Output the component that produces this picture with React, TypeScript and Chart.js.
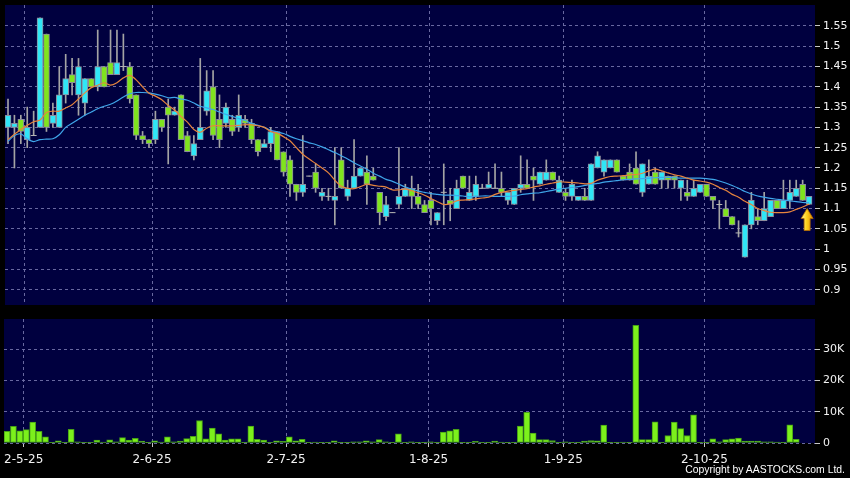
import React, { useEffect, useRef } from 'react';
import { Chart, registerables } from 'chart.js';

Chart.register(...registerables);

// ---------- data ----------
const dateLabels = ['2-5-25', '2-6-25', '2-7-25', '1-8-25', '1-9-25', '2-10-25'];
const datePositions = [2.6, 22.6, 43.5, 65.7, 86.7, 108.7];

const opens = [
  1.30, 1.30, 1.32, 1.27, 1.28, 1.30, 1.53, 1.31, 1.30, 1.38,
  1.43, 1.38, 1.36, 1.42, 1.40, 1.45, 1.46, 1.43, 1.45, 1.45,
  1.38, 1.28, 1.27, 1.27, 1.32, 1.35, 1.33, 1.38, 1.28, 1.23,
  1.27, 1.34, 1.40, 1.32, 1.31, 1.32, 1.30, 1.32, 1.31, 1.27,
  1.25, 1.26, 1.29, 1.24, 1.22, 1.16, 1.14, 1.18, 1.19, 1.13,
  1.13, 1.12, 1.22, 1.13, 1.15, 1.18, 1.19, 1.18, 1.14, 1.08,
  1.09, 1.11, 1.13, 1.15, 1.13, 1.11, 1.12, 1.07, 1.14, 1.12,
  1.10, 1.18, 1.12, 1.13, 1.15, 1.15, 1.15, 1.15, 1.12, 1.11,
  1.15, 1.16, 1.18, 1.16, 1.17, 1.19, 1.14, 1.14, 1.13, 1.12,
  1.13, 1.12, 1.20, 1.19, 1.20, 1.22, 1.18, 1.19, 1.20, 1.14,
  1.16, 1.19, 1.17, 1.18, 1.18, 1.15, 1.14, 1.13, 1.14, 1.16,
  1.13, 1.11, 1.10, 1.08, 1.04, 0.98, 1.06, 1.08, 1.07, 1.08,
  1.12, 1.10, 1.12, 1.13, 1.16, 1.11,
];
const closes = [
  1.33, 1.31, 1.29, 1.30, 1.28, 1.57, 1.30, 1.33, 1.38, 1.42,
  1.41, 1.45, 1.42, 1.40, 1.45, 1.40, 1.43, 1.46, 1.45, 1.37,
  1.28, 1.27, 1.26, 1.32, 1.30, 1.33, 1.34, 1.27, 1.24, 1.26,
  1.30, 1.39, 1.28, 1.27, 1.35, 1.29, 1.33, 1.31, 1.27, 1.24,
  1.26, 1.29, 1.22, 1.19, 1.16, 1.14, 1.16, 1.18, 1.15, 1.14,
  1.13, 1.13, 1.15, 1.15, 1.18, 1.20, 1.16, 1.17, 1.09, 1.11,
  1.09, 1.13, 1.15, 1.13, 1.11, 1.09, 1.10, 1.09, 1.14, 1.11,
  1.15, 1.15, 1.14, 1.16, 1.15, 1.16, 1.15, 1.14, 1.14, 1.15,
  1.16, 1.15, 1.17, 1.19, 1.19, 1.17, 1.17, 1.13, 1.16, 1.13,
  1.12, 1.21, 1.23, 1.22, 1.22, 1.19, 1.17, 1.17, 1.16, 1.21,
  1.18, 1.16, 1.19, 1.17, 1.17, 1.17, 1.13, 1.15, 1.16, 1.13,
  1.12, 1.11, 1.08, 1.06, 1.04, 1.06, 1.12, 1.07, 1.10, 1.12,
  1.10, 1.12, 1.14, 1.15, 1.12, 1.13,
];
const highs = [
  1.37, 1.33, 1.33, 1.35, 1.34, 1.57, 1.53, 1.36, 1.45, 1.48,
  1.47, 1.47, 1.42, 1.42, 1.54, 1.45, 1.54, 1.54, 1.53, 1.46,
  1.38, 1.29, 1.27, 1.34, 1.32, 1.37, 1.35, 1.38, 1.29, 1.28,
  1.47, 1.44, 1.44, 1.38, 1.36, 1.33, 1.38, 1.33, 1.32, 1.27,
  1.27, 1.30, 1.29, 1.24, 1.23, 1.16, 1.28, 1.18, 1.21, 1.15,
  1.15, 1.25, 1.25, 1.17, 1.27, 1.20, 1.23, 1.20, 1.14, 1.13,
  1.09, 1.25, 1.16, 1.18, 1.16, 1.12, 1.14, 1.09, 1.21, 1.15,
  1.17, 1.18, 1.18, 1.18, 1.16, 1.19, 1.21, 1.19, 1.14, 1.15,
  1.23, 1.22, 1.20, 1.19, 1.22, 1.19, 1.18, 1.15, 1.17, 1.13,
  1.15, 1.21, 1.24, 1.22, 1.22, 1.22, 1.18, 1.21, 1.24, 1.21,
  1.22, 1.20, 1.19, 1.18, 1.18, 1.17, 1.17, 1.17, 1.16, 1.16,
  1.13, 1.12, 1.12, 1.08, 1.07, 1.06, 1.14, 1.10, 1.14, 1.12,
  1.12, 1.17, 1.17, 1.17, 1.17, 1.13,
];
const lows = [
  1.26, 1.20, 1.26, 1.25, 1.28, 1.30, 1.29, 1.30, 1.30, 1.36,
  1.38, 1.33, 1.33, 1.40, 1.39, 1.40, 1.43, 1.43, 1.44, 1.36,
  1.27, 1.26, 1.25, 1.26, 1.29, 1.21, 1.33, 1.27, 1.24, 1.22,
  1.27, 1.33, 1.27, 1.25, 1.30, 1.28, 1.29, 1.30, 1.26, 1.23,
  1.25, 1.24, 1.22, 1.18, 1.13, 1.12, 1.13, 1.18, 1.14, 1.12,
  1.12, 1.06, 1.15, 1.12, 1.15, 1.18, 1.11, 1.17, 1.06, 1.07,
  1.09, 1.10, 1.13, 1.10, 1.10, 1.09, 1.06, 1.06, 1.06, 1.07,
  1.10, 1.15, 1.12, 1.12, 1.15, 1.15, 1.15, 1.13, 1.11, 1.11,
  1.14, 1.15, 1.12, 1.16, 1.17, 1.17, 1.14, 1.12, 1.12, 1.12,
  1.12, 1.12, 1.20, 1.18, 1.20, 1.19, 1.17, 1.17, 1.16, 1.13,
  1.16, 1.16, 1.15, 1.15, 1.15, 1.12, 1.12, 1.13, 1.14, 1.13,
  1.10, 1.05, 1.08, 1.06, 1.03, 0.98, 1.05, 1.06, 1.07, 1.08,
  1.10, 1.10, 1.10, 1.13, 1.12, 1.11,
];
const volumes = [
  3700, 5300, 3900, 4300, 6700, 3700, 2000, 200, 700, 200,
  4400, 400, 100, 200, 900, 300, 1000, 400, 1700, 900,
  1500, 600, 100, 700, 300, 2000, 400, 600, 1400, 2100,
  7200, 1300, 4800, 2900, 900, 1300, 1300, 100, 5400, 1200,
  900, 100, 700, 500, 2000, 700, 1200, 100, 300, 100,
  100, 700, 100, 100, 400, 400, 700, 400, 1100, 400,
  100, 2900, 100, 400, 100, 200, 400, 100, 3500, 3900,
  4400, 100, 100, 500, 100, 100, 600, 300, 100, 100,
  5400, 9800, 3200, 1100, 1100, 800, 100, 400, 100, 100,
  600, 800, 700, 5700, 200, 100, 300, 100, 37700, 1100,
  1100, 6800, 100, 2400, 6700, 4600, 2400, 9000, 100, 200,
  1300, 400, 1100, 1300, 1600, 600, 600, 600, 400, 400,
  300, 200, 5800, 1200, 0, 0,
];
const maShort = [
  1.270, 1.283, 1.295, 1.305, 1.314, 1.318, 1.337, 1.340, 1.340, 1.348,
  1.356, 1.370, 1.385, 1.398, 1.404, 1.410, 1.404, 1.410, 1.422, 1.428,
  1.417, 1.400, 1.384, 1.377, 1.368, 1.354, 1.343, 1.327, 1.313, 1.295,
  1.288, 1.298, 1.304, 1.304, 1.304, 1.304, 1.305, 1.307, 1.306, 1.304,
  1.300, 1.290, 1.286, 1.277, 1.267, 1.250, 1.234, 1.222, 1.211, 1.200,
  1.188, 1.170, 1.155, 1.150, 1.149, 1.154, 1.160, 1.157, 1.155, 1.153,
  1.146, 1.146, 1.148, 1.144, 1.139, 1.133, 1.125, 1.117, 1.110, 1.112,
  1.119, 1.121, 1.122, 1.124, 1.126, 1.128, 1.135, 1.140, 1.143, 1.145,
  1.147, 1.149, 1.153, 1.156, 1.160, 1.163, 1.166, 1.165, 1.164, 1.163,
  1.161, 1.162, 1.170, 1.175, 1.179, 1.180, 1.181, 1.183, 1.184, 1.187,
  1.193, 1.197, 1.193, 1.188, 1.183, 1.180, 1.175, 1.170, 1.168, 1.165,
  1.160, 1.152, 1.145, 1.135, 1.128, 1.118, 1.110, 1.100, 1.095, 1.091,
  1.090, 1.090, 1.092, 1.098, 1.104, 1.111,
];
const maLong = [
  1.266, 1.280, 1.284, 1.272, 1.265, 1.270, 1.271, 1.272, 1.282, 1.300,
  1.310, 1.320, 1.330, 1.338, 1.346, 1.352, 1.357, 1.365, 1.375, 1.383,
  1.386, 1.386, 1.385, 1.382, 1.378, 1.373, 1.374, 1.370, 1.367, 1.360,
  1.352, 1.348, 1.344, 1.338, 1.332, 1.327, 1.322, 1.317, 1.310, 1.305,
  1.300, 1.293, 1.289, 1.285, 1.278, 1.272, 1.267, 1.262, 1.258, 1.252,
  1.245, 1.238, 1.230, 1.222, 1.213, 1.205, 1.197, 1.187, 1.180, 1.172,
  1.167, 1.160, 1.153, 1.148, 1.143, 1.140, 1.137, 1.135, 1.133, 1.133,
  1.132, 1.131, 1.129, 1.130, 1.131, 1.131, 1.130, 1.130, 1.130, 1.131,
  1.134, 1.136, 1.138, 1.139, 1.142, 1.145, 1.148, 1.150, 1.152, 1.154,
  1.157, 1.160, 1.162, 1.165, 1.167, 1.169, 1.171, 1.172, 1.173, 1.174,
  1.175, 1.176, 1.177, 1.177, 1.176, 1.175, 1.175, 1.175, 1.175, 1.174,
  1.172, 1.168, 1.163, 1.157, 1.150, 1.142, 1.136, 1.131, 1.128, 1.125,
  1.123, 1.121, 1.119, 1.117, 1.115, 1.115,
];
const priceTicks = [0.9, 0.95, 1, 1.05, 1.1, 1.15, 1.2, 1.25, 1.3, 1.35, 1.4, 1.45, 1.5, 1.55];
const volumeTicks = [0, 10000, 20000, 30000];
const arrowIndex = 124.7;
const arrowTip = 1.10;
const arrowBase = 1.046;

// ---------- styles ----------
const FONT = 'DejaVu Sans';
const NAVY = '#00003f';
const GRID = 'rgba(110,110,165,0.95)';
const UP = '#30e6f6';
const DOWN = '#80e41e';
const X_MIN = -0.47;
const X_MAX = 125.93;

const navyBg = {
  id: 'navyBg',
  beforeDraw(chart: any) {
    const { ctx, chartArea: a } = chart;
    ctx.save();
    ctx.fillStyle = NAVY;
    ctx.fillRect(a.left, a.top, a.right - a.left, a.bottom - a.top);
    ctx.restore();
  },
};

const arrowPlugin = {
  id: 'arrowMark',
  afterDatasetsDraw(chart: any) {
    const { ctx } = chart;
    const xs = chart.scales.x;
    const ys = chart.scales.y;
    const cx = xs.getPixelForValue(arrowIndex);
    const top = ys.getPixelForValue(arrowTip);
    const bot = ys.getPixelForValue(arrowBase);
    const hw = 6;
    const sw = 3;
    const head = 10;
    ctx.save();
    const g = ctx.createLinearGradient(cx - hw, 0, cx + hw, 0);
    g.addColorStop(0, '#fff6a0');
    g.addColorStop(0.45, '#ffd21e');
    g.addColorStop(1, '#e08a00');
    ctx.beginPath();
    ctx.moveTo(cx, top);
    ctx.lineTo(cx + hw, top + head);
    ctx.lineTo(cx + sw, top + head);
    ctx.lineTo(cx + sw, bot);
    ctx.lineTo(cx - sw, bot);
    ctx.lineTo(cx - sw, top + head);
    ctx.lineTo(cx - hw, top + head);
    ctx.closePath();
    ctx.fillStyle = g;
    ctx.fill();
    ctx.strokeStyle = '#b86e00';
    ctx.lineWidth = 0.8;
    ctx.stroke();
    ctx.restore();
  },
};

function zeroPad(s: any) {
  s.paddingTop = 0;
  s.paddingBottom = 0;
  s.paddingLeft = 0;
  s.paddingRight = 0;
}

function xScale(showLabels: boolean) {
  return {
    type: 'linear',
    min: X_MIN,
    max: X_MAX,
    offset: false,
    afterBuildTicks: (s: any) => {
      s.ticks = datePositions.map((v) => ({ value: v }));
    },
    afterFit: (s: any) => {
      s.height = showLabels ? 35 : 0;
      zeroPad(s);
    },
    ticks: {
      display: showLabels,
      autoSkip: false,
      maxRotation: 0,
      color: '#f2f2f2',
      padding: 6,
      font: { family: FONT, size: 12 },
      callback: (_v: any, i: number) => dateLabels[i],
    },
    grid: {
      offset: false,
      color: GRID,
      drawTicks: showLabels,
      tickLength: 4,
      tickColor: '#c8c8c8',
      tickBorderDash: [],
    },
    border: { display: false, dash: [3, 3] },
  };
}

function yOpts(min: number, max: number, ticks: number[], fmt: (v: number) => string) {
  return {
    position: 'right',
    min,
    max,
    afterBuildTicks: (s: any) => {
      s.ticks = ticks.map((v) => ({ value: v }));
    },
    afterFit: (s: any) => {
      s.width = 35;
      zeroPad(s);
    },
    ticks: {
      autoSkip: false,
      color: '#f2f2f2',
      padding: 3,
      font: { family: FONT, size: 11 },
      callback: (v: any) => fmt(Number(v)),
    },
    grid: {
      color: GRID,
      tickLength: 5,
      tickColor: '#c8c8c8',
      tickBorderDash: [],
    },
    border: { display: false, dash: [3, 3] },
  };
}

export default function App() {
  const priceRef = useRef<HTMLCanvasElement>(null);
  const volRef = useRef<HTMLCanvasElement>(null);

  useEffect(() => {
    const idx = opens.map((_, i) => i);
    const bodyColors = idx.map((i) => (closes[i] >= opens[i] ? UP : DOWN));
    const dojis = idx.filter((i) => opens[i] === closes[i]).map((i) => ({ x: i, y: closes[i] }));

    const price = new Chart(priceRef.current as HTMLCanvasElement, {
      type: 'bar',
      data: {
        datasets: [
          {
            type: 'line',
            data: maShort.map((v, i) => ({ x: i, y: v })),
            borderColor: '#e6843e',
            borderWidth: 1.2,
            pointRadius: 0,
            tension: 0.3,
            order: 0,
          } as any,
          {
            type: 'line',
            data: maLong.map((v, i) => ({ x: i, y: v })),
            borderColor: '#3fa6ea',
            borderWidth: 1.2,
            pointRadius: 0,
            tension: 0.3,
            order: 1,
          } as any,
          {
            type: 'line',
            data: dojis,
            showLine: false,
            pointStyle: 'line',
            pointRadius: 3,
            pointBorderColor: '#b4b4b4',
            pointBorderWidth: 1,
            order: 2,
          } as any,
          {
            type: 'bar',
            data: idx.map((i) => ({ x: i, y: [opens[i], closes[i]] })),
            backgroundColor: bodyColors,
            borderColor: '#8c8c9c',
            borderWidth: 1,
            borderSkipped: false,
            barThickness: 6,
            grouped: false,
            order: 3,
          } as any,
          {
            type: 'bar',
            data: idx.map((i) => ({ x: i, y: [lows[i], highs[i]] })),
            backgroundColor: '#a4a4a4',
            borderWidth: 0,
            barThickness: 1,
            grouped: false,
            order: 4,
          } as any,
        ],
      },
      options: {
        animation: false,
        responsive: false,
        maintainAspectRatio: false,
        layout: { padding: { left: 4, top: 5, right: 0, bottom: 4 } },
        plugins: { legend: { display: false }, tooltip: { enabled: false } },
        scales: {
          x: xScale(false) as any,
          y: yOpts(0.8624, 1.6016, priceTicks, (v) => String(Number(v.toFixed(2)))) as any,
        },
      },
      plugins: [navyBg, arrowPlugin],
    });

    const vol = new Chart(volRef.current as HTMLCanvasElement, {
      type: 'bar',
      data: {
        datasets: [
          {
            data: volumes.map((v, i) => ({ x: i, y: v })),
            backgroundColor: '#7cf01c',
            borderColor: '#46a016',
            borderWidth: 1,
            borderSkipped: false,
            barThickness: 6,
          } as any,
        ],
      },
      options: {
        animation: false,
        responsive: false,
        maintainAspectRatio: false,
        layout: { padding: { left: 4, top: 9, right: 0, bottom: 0 } },
        plugins: { legend: { display: false }, tooltip: { enabled: false } },
        scales: {
          x: xScale(true) as any,
          y: yOpts(0, 39700, volumeTicks, (v) => (v === 0 ? '0' : v / 1000 + 'K')) as any,
        },
      },
      plugins: [navyBg],
    });

    return () => {
      price.destroy();
      vol.destroy();
    };
  }, []);

  return (
    <div
      style={{
        position: 'fixed',
        left: 0,
        top: 0,
        width: 850,
        height: 478,
        background: '#000',
        overflow: 'hidden',
      }}
    >
      <canvas
        ref={priceRef}
        width={850}
        height={310}
        style={{ position: 'absolute', left: 0, top: 0, width: 850, height: 310 }}
      />
      <canvas
        ref={volRef}
        width={850}
        height={168}
        style={{ position: 'absolute', left: 0, top: 310, width: 850, height: 168 }}
      />
      <div
        style={{
          position: 'absolute',
          right: 5,
          top: 463,
          color: '#ffffff',
          fontFamily: '"Liberation Sans", Arial, sans-serif',
          fontSize: 10.4,
          lineHeight: '14px',
          whiteSpace: 'nowrap',
        }}
      >
        Copyright by AASTOCKS.com Ltd.
      </div>
    </div>
  );
}
